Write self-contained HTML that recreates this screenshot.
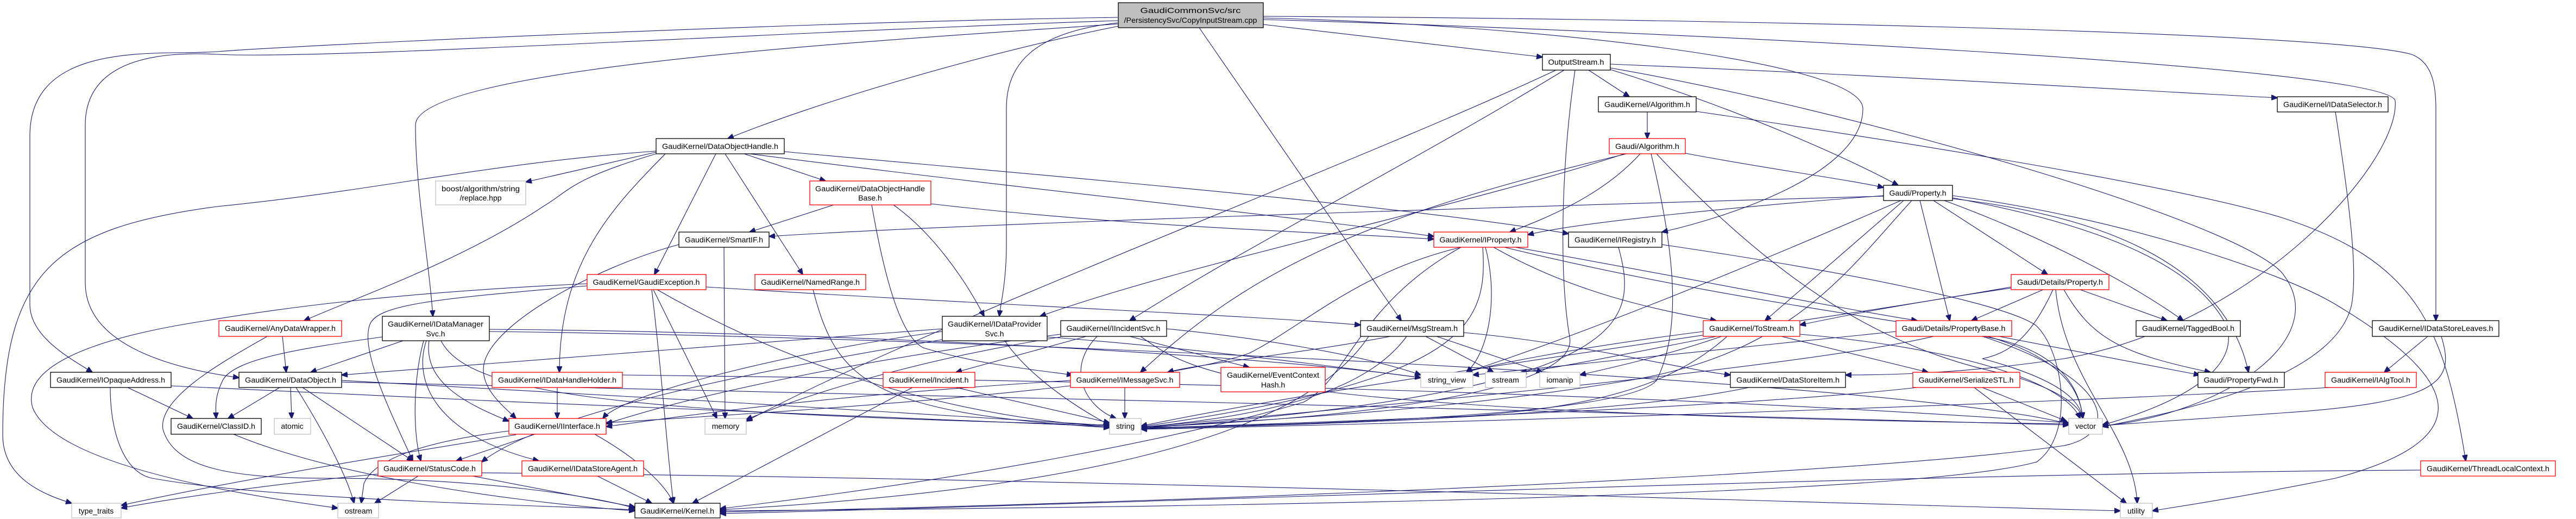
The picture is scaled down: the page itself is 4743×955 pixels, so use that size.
<!DOCTYPE html>
<html><head><meta charset="utf-8">
<style>
html,body{margin:0;padding:0;background:#fff;}
svg{display:block;}
text{font-family:"Liberation Sans",sans-serif;font-size:14px;fill:#000;}
.e{fill:none;stroke:#191970;stroke-width:1.1;marker-end:url(#a);}
.b{fill:#fff;stroke:#000;stroke-width:1.3;}
.r{fill:#fff;stroke:#ff0000;stroke-width:1.3;}
.g{fill:#fff;stroke:#bfbfbf;stroke-width:1.3;}
</style></head><body>
<svg width="4743" height="955" viewBox="0 0 4743 955" xmlns="http://www.w3.org/2000/svg">
<defs><marker id="a" markerWidth="12" markerHeight="10" refX="11" refY="5" orient="auto" markerUnits="userSpaceOnUse"><path d="M0,0 L12,5 L0,10 z" fill="#191970" stroke="#191970"/></marker></defs>
<g>
<path class="e" d="M2060,48 C1800,100 1500,190 1340,255"/>
<path class="e" d="M2058,42 C1900,60 1853,120 1853,200 L1853,450 C1853,520 1842,560 1840,582"/>
<path class="e" d="M2058,44 C1700,70 765,120 765,230 C765,350 790,480 797,582"/>
<path class="e" d="M2058,38 C1400,60 600,110 400,100 C250,92 157,130 157,230 L157,520 C157,640 330,680 440,695"/>
<path class="e" d="M2058,32 C1500,40 600,80 400,95 C300,103 55,70 55,250 L55,560 C55,620 130,660 170,685"/>
<path class="e" d="M2326,45 C2550,70 2700,90 2840,105"/>
<path class="e" d="M2208,51 L2580,590"/>
<path class="e" d="M2326,33 C2800,45 3430,110 3430,200 C3430,320 3180,400 3060,427"/>
<path class="e" d="M2326,36 C3000,55 4390,120 4410,185 C4420,300 4150,600 3800,660 C3600,690 3450,690 3398,690"/>
<path class="e" d="M2326,30 C3200,35 4300,60 4440,100 C4480,115 4485,160 4485,200 L4485,590"/>
<path class="e" d="M1208,278 C900,300 700,350 400,380 C100,420 5,500 5,800 C5,880 80,910 132,926"/>
<path class="e" d="M1208,283 C1050,330 1050,350 1000,380 C850,480 650,550 560,590"/>
<path class="e" d="M1208,280 L968,335"/>
<path class="e" d="M1225,283 C1130,380 1030,480 1030,685"/>
<path class="e" d="M1318,283 L1205,505"/>
<path class="e" d="M1370,283 L1520,333"/>
<path class="e" d="M1335,283 L1478,505"/>
<path class="e" d="M1380,283 C1900,350 2400,400 2640,435"/>
<path class="e" d="M1444,279 C2000,330 2600,380 2888,430"/>
<path class="e" d="M1250,450 C1100,490 890,600 890,680 C890,720 930,750 950,770"/>
<path class="e" d="M1333,455 L1335,770"/>
<path class="e" d="M1535,377 L1380,427"/>
<path class="e" d="M1645,377 C1720,430 1780,520 1812,582"/>
<path class="e" d="M1605,377 C1630,520 1660,620 1700,640 C1800,670 1900,680 1975,690"/>
<path class="e" d="M1714,375 C2100,420 2500,430 2640,440"/>
<path class="e" d="M1300,528 C1800,560 2300,580 2505,598"/>
<path class="e" d="M1200,533 C1220,700 1230,850 1240,926"/>
<path class="e" d="M1203,533 L1320,770"/>
<path class="e" d="M1210,533 C1500,700 1800,770 2043,785"/>
<path class="e" d="M1081,526 C800,550 690,560 680,600 C665,650 720,760 760,848"/>
<path class="e" d="M1081,522 C700,540 500,570 380,590 C150,625 40,680 60,750 C100,850 400,905 622,935"/>
<path class="e" d="M1497,533 C1540,700 1600,760 2043,787"/>
<path class="e" d="M520,619 L527,685"/>
<path class="e" d="M492,619 C420,660 290,730 300,790 C320,860 420,880 600,880 C900,880 1100,915 1169,935"/>
<path class="e" d="M742,627 L572,685"/>
<path class="e" d="M704,620 C560,640 430,660 410,700 C395,730 397,750 398,770"/>
<path class="e" d="M790,627 C780,700 850,740 937,775"/>
<path class="e" d="M785,627 C760,700 800,800 992,848"/>
<path class="e" d="M780,627 C760,700 760,800 775,848"/>
<path class="e" d="M812,627 C860,720 1100,760 2043,782"/>
<path class="e" d="M901,606 C1500,610 2300,650 2616,695"/>
<path class="e" d="M901,610 C1800,620 3500,700 3809,780"/>
<path class="e" d="M515,713 L420,770"/>
<path class="e" d="M535,713 L537,770"/>
<path class="e" d="M545,713 C600,800 640,880 652,926"/>
<path class="e" d="M557,713 L760,848"/>
<path class="e" d="M629,700 C1000,720 1700,760 2043,783"/>
<path class="e" d="M629,703 C1500,720 3000,760 3809,782"/>
<path class="e" d="M235,713 L355,770"/>
<path class="e" d="M203,713 C203,800 230,870 280,880 C500,920 1000,930 1169,938"/>
<path class="e" d="M315,710 C900,740 1700,770 2043,785"/>
<path class="e" d="M1026,713 L1026,770"/>
<path class="e" d="M1146,690 C2000,700 3000,720 3809,778"/>
<path class="e" d="M430,799 C600,870 900,920 1169,940"/>
<path class="e" d="M985,799 L840,848"/>
<path class="e" d="M1095,799 C1150,830 1220,880 1240,926"/>
<path class="e" d="M937,793 C800,810 690,840 670,890 L665,926"/>
<path class="e" d="M950,800 C700,840 400,890 223,930"/>
<path class="e" d="M770,876 L690,926"/>
<path class="e" d="M870,876 C1000,900 1100,920 1169,933"/>
<path class="e" d="M700,872 C500,890 300,920 223,935"/>
<path class="e" d="M887,870 C2000,880 3500,930 3904,940"/>
<path class="e" d="M1100,876 L1200,926"/>
<path class="e" d="M1735,605 C1400,630 900,670 629,690"/>
<path class="e" d="M1735,610 C1500,640 1150,720 1110,770"/>
<path class="e" d="M1850,627 C1900,700 2000,760 2043,782"/>
<path class="e" d="M1928,620 C2200,640 2500,680 2616,695"/>
<path class="e" d="M1735,625 C1400,680 1000,760 887,850"/>
<path class="e" d="M2000,619 L1760,685"/>
<path class="e" d="M1953,615 C1600,660 1300,720 1116,780"/>
<path class="e" d="M2020,619 C1960,680 2000,750 2055,770"/>
<path class="e" d="M2080,619 L2300,676"/>
<path class="e" d="M1953,620 C1700,660 1500,720 1374,772"/>
<path class="e" d="M2100,619 C2200,690 2300,760 3809,780"/>
<path class="e" d="M2148,605 C2300,620 2500,650 2616,690"/>
<path class="e" d="M1760,713 L2043,778"/>
<path class="e" d="M1680,713 L1275,926"/>
<path class="e" d="M2071,713 L2071,770"/>
<path class="e" d="M1971,700 C1500,730 1300,760 1116,785"/>
<path class="e" d="M2560,619 C2400,650 2200,670 2150,685"/>
<path class="e" d="M2625,619 L2750,685"/>
<path class="e" d="M2645,619 L2840,685"/>
<path class="e" d="M2590,619 C2530,700 2400,760 2101,786"/>
<path class="e" d="M2695,612 C2900,630 3100,680 3186,690"/>
<path class="e" d="M2520,619 C2400,800 2000,900 1326,938"/>
<path class="e" d="M2690,455 C2500,500 2400,600 2300,650 C2100,720 1400,760 1116,778"/>
<path class="e" d="M2730,455 C2740,600 2700,700 2101,785"/>
<path class="e" d="M2735,455 C2760,550 2740,650 2700,685"/>
<path class="e" d="M2750,455 C2900,540 3050,570 3160,590"/>
<path class="e" d="M2790,455 C3100,510 3400,570 3530,590"/>
<path class="e" d="M2770,455 C3200,560 3600,600 3700,630 C3800,660 3830,720 3835,770"/>
<path class="e" d="M2690,455 C2500,560 2480,700 2400,740 C2200,800 1800,880 1326,936"/>
<path class="e" d="M2980,455 C3020,600 3000,720 2101,788"/>
<path class="e" d="M3060,450 C3400,500 3700,560 3750,600 C3800,650 3820,800 3750,850 C3500,920 2000,935 1326,940"/>
<path class="e" d="M3033,206 L3033,255"/>
<path class="e" d="M3123,205 C3500,260 4000,340 4200,400 C4450,480 4500,600 4540,848"/>
<path class="e" d="M3103,282 C3250,310 3400,330 3468,345"/>
<path class="e" d="M3020,283 C2950,360 2850,400 2780,427"/>
<path class="e" d="M3040,283 C3080,450 3100,600 3050,700 C3000,760 2500,780 2101,787"/>
<path class="e" d="M3050,283 C3300,550 3500,650 3700,690 C3800,720 3830,750 3835,770"/>
<path class="e" d="M2995,283 C2500,400 2300,500 2100,685"/>
<path class="e" d="M3000,280 C2700,380 2200,480 1915,582"/>
<path class="e" d="M3468,360 C3200,380 2900,410 2813,432"/>
<path class="e" d="M3468,361 C2800,380 1800,410 1416,435"/>
<path class="e" d="M3500,369 C3200,500 2900,620 2700,685"/>
<path class="e" d="M3505,369 L3250,590"/>
<path class="e" d="M3535,369 L3590,590"/>
<path class="e" d="M3560,369 L3770,505"/>
<path class="e" d="M3580,369 C3800,450 3950,540 4020,590"/>
<path class="e" d="M3590,365 C3900,400 4100,500 4140,685"/>
<path class="e" d="M3595,360 C3900,400 4200,500 4300,560 C4500,680 4600,800 4300,880 C4100,920 3990,935 3963,940"/>
<path class="e" d="M3520,369 C3400,500 3300,650 3000,700 C2700,750 2400,770 2101,786"/>
<path class="e" d="M3595,364 C3900,420 4050,500 4100,600 C4130,700 3950,760 3871,782"/>
<path class="e" d="M3762,533 L3630,590"/>
<path class="e" d="M3830,533 L3990,590"/>
<path class="e" d="M3800,533 C3850,620 3900,650 4070,685"/>
<path class="e" d="M3703,530 C3500,560 3400,580 3314,598"/>
<path class="e" d="M3785,533 C3800,700 3930,800 3935,926"/>
<path class="e" d="M3780,533 C3740,620 3700,650 3650,660 C3800,700 3830,740 3835,770"/>
<path class="e" d="M3703,528 C3300,600 2500,700 2101,784"/>
<path class="e" d="M3660,619 C3800,660 3830,720 3835,770"/>
<path class="e" d="M3670,617 L4050,690"/>
<path class="e" d="M3560,619 C3300,680 2400,760 2101,786"/>
<path class="e" d="M3491,610 C3200,640 2800,680 2712,690"/>
<path class="e" d="M3650,619 C3900,700 3900,800 3800,820 C3400,880 2000,930 1326,942"/>
<path class="e" d="M3180,619 C3000,780 2700,770 2101,788"/>
<path class="e" d="M3160,619 C2950,660 2850,680 2800,685"/>
<path class="e" d="M3170,619 C3050,660 2950,680 2909,690"/>
<path class="e" d="M3280,619 L3550,685"/>
<path class="e" d="M3314,615 C3600,640 3800,700 3830,770"/>
<path class="e" d="M3136,610 C2900,640 2750,670 2700,685"/>
<path class="e" d="M3650,713 L3805,775"/>
<path class="e" d="M3635,713 L3915,926"/>
<path class="e" d="M3530,713 C3200,750 2500,775 2101,788"/>
<path class="e" d="M3220,713 C3000,760 2500,780 2101,789"/>
<path class="e" d="M4300,206 C4330,400 4340,500 4330,560 C4300,700 4000,760 3871,785"/>
<path class="e" d="M4470,619 L4390,685"/>
<path class="e" d="M4495,619 C4520,700 4500,740 4200,760 C4000,775 3900,780 3871,783"/>
<path class="e" d="M4291,713 C3800,740 3000,770 2101,790"/>
<path class="e" d="M4457,865 C3500,870 2000,930 1326,945"/>
<path class="e" d="M2925,129 L3000,178"/>
<path class="e" d="M2965,128 C3200,200 3400,290 3495,341"/>
<path class="e" d="M2880,129 C2600,300 2300,450 2080,590"/>
<path class="e" d="M2865,129 C2500,300 1700,600 1374,775"/>
<path class="e" d="M2900,129 C2875,300 2870,500 2890,620 C2910,720 2500,770 2101,786"/>
<path class="e" d="M2965,118 C3500,140 4000,170 4193,180"/>
<path class="e" d="M2965,125 C3400,200 4100,400 4200,500 C4300,620 4100,760 3871,784"/>
</g>
<g text-anchor="middle">
<rect x="2059" y="5" width="267" height="46" fill="#bfbfbf" stroke="#000" stroke-width="1.3"/>
<text x="2192" y="24" textLength="185" lengthAdjust="spacingAndGlyphs">GaudiCommonSvc/src</text>
<text x="2192" y="42" textLength="245" lengthAdjust="spacingAndGlyphs">/PersistencySvc/CopyInputStream.cpp</text>

<rect class="g" x="802" y="333" width="166" height="44"/>
<text x="885" y="352" textLength="144" lengthAdjust="spacingAndGlyphs">boost/algorithm/string</text>
<text x="885" y="369">/replace.hpp</text>

<rect class="r" x="403" y="590" width="226" height="29"/><text x="516" y="609" textLength="204" lengthAdjust="spacingAndGlyphs">GaudiKernel/AnyDataWrapper.h</text>
<rect class="b" x="704" y="582" width="197" height="45"/>
<text x="802" y="601" textLength="176" lengthAdjust="spacingAndGlyphs">GaudiKernel/IDataManager</text>
<text x="802" y="619">Svc.h</text>
<rect class="b" x="93" y="685" width="222" height="28"/><text x="204" y="704" textLength="200" lengthAdjust="spacingAndGlyphs">GaudiKernel/IOpaqueAddress.h</text>
<rect class="b" x="440" y="685" width="189" height="28"/><text x="535" y="704" textLength="168" lengthAdjust="spacingAndGlyphs">GaudiKernel/DataObject.h</text>
<rect class="r" x="906" y="685" width="240" height="28"/><text x="1026" y="704" textLength="218" lengthAdjust="spacingAndGlyphs">GaudiKernel/IDataHandleHolder.h</text>
<rect class="b" x="315" y="770" width="166" height="29"/><text x="398" y="789" textLength="144" lengthAdjust="spacingAndGlyphs">GaudiKernel/ClassID.h</text>
<rect class="g" x="505" y="770" width="67" height="29"/><text x="538" y="789">atomic</text>
<rect class="r" x="937" y="770" width="179" height="29"/><text x="1026" y="789" textLength="158" lengthAdjust="spacingAndGlyphs">GaudiKernel/IInterface.h</text>
<rect class="r" x="696" y="848" width="191" height="28"/><text x="791" y="867" textLength="170" lengthAdjust="spacingAndGlyphs">GaudiKernel/StatusCode.h</text>
<rect class="r" x="961" y="848" width="224" height="28"/><text x="1073" y="867" textLength="202" lengthAdjust="spacingAndGlyphs">GaudiKernel/IDataStoreAgent.h</text>
<rect class="g" x="132" y="926" width="91" height="27"/><text x="177" y="945">type_traits</text>
<rect class="g" x="622" y="926" width="75" height="27"/><text x="660" y="945">ostream</text>
<rect class="b" x="1169" y="926" width="157" height="27"/><text x="1247" y="945" textLength="136" lengthAdjust="spacingAndGlyphs">GaudiKernel/Kernel.h</text>
<rect class="r" x="1081" y="505" width="219" height="28"/><text x="1190" y="524" textLength="197" lengthAdjust="spacingAndGlyphs">GaudiKernel/GaudiException.h</text>

<rect class="b" x="1208" y="255" width="236" height="28"/><text x="1326" y="274" textLength="214" lengthAdjust="spacingAndGlyphs">GaudiKernel/DataObjectHandle.h</text>
<rect class="r" x="1491" y="333" width="223" height="44"/>
<text x="1602" y="352" textLength="202" lengthAdjust="spacingAndGlyphs">GaudiKernel/DataObjectHandle</text>
<text x="1602" y="369">Base.h</text>
<rect class="b" x="1250" y="427" width="166" height="28"/><text x="1333" y="446" textLength="144" lengthAdjust="spacingAndGlyphs">GaudiKernel/SmartIF.h</text>
<rect class="r" x="1390" y="505" width="204" height="28"/><text x="1492" y="524" textLength="182" lengthAdjust="spacingAndGlyphs">GaudiKernel/NamedRange.h</text>
<rect class="b" x="1735" y="582" width="193" height="45"/>
<text x="1831" y="601" textLength="172" lengthAdjust="spacingAndGlyphs">GaudiKernel/IDataProvider</text>
<text x="1831" y="619">Svc.h</text>
<rect class="b" x="1953" y="590" width="195" height="29"/><text x="2050" y="609" textLength="173" lengthAdjust="spacingAndGlyphs">GaudiKernel/IIncidentSvc.h</text>
<rect class="r" x="1626" y="685" width="169" height="28"/><text x="1710" y="704" textLength="147" lengthAdjust="spacingAndGlyphs">GaudiKernel/Incident.h</text>
<rect class="r" x="1971" y="685" width="201" height="28"/><text x="2071" y="704" textLength="179" lengthAdjust="spacingAndGlyphs">GaudiKernel/IMessageSvc.h</text>
<rect class="r" x="2248" y="676" width="192" height="45"/>
<text x="2344" y="695" textLength="170" lengthAdjust="spacingAndGlyphs">GaudiKernel/EventContext</text>
<text x="2344" y="713">Hash.h</text>
<rect class="g" x="1298" y="770" width="76" height="29"/><text x="1336" y="789">memory</text>
<rect class="g" x="2043" y="770" width="58" height="29"/><text x="2072" y="789">string</text>

<rect class="b" x="2840" y="100" width="125" height="29"/><text x="2902" y="119" textLength="103" lengthAdjust="spacingAndGlyphs">OutputStream.h</text>
<rect class="b" x="2943" y="178" width="180" height="28"/><text x="3033" y="197" textLength="158" lengthAdjust="spacingAndGlyphs">GaudiKernel/Algorithm.h</text>
<rect class="r" x="2963" y="255" width="140" height="28"/><text x="3033" y="274" textLength="118" lengthAdjust="spacingAndGlyphs">Gaudi/Algorithm.h</text>
<rect class="b" x="3468" y="341" width="127" height="28"/><text x="3531" y="360" textLength="105" lengthAdjust="spacingAndGlyphs">Gaudi/Property.h</text>
<rect class="r" x="2640" y="427" width="173" height="28"/><text x="2726" y="446" textLength="151" lengthAdjust="spacingAndGlyphs">GaudiKernel/IProperty.h</text>
<rect class="b" x="2888" y="427" width="172" height="28"/><text x="2974" y="446" textLength="150" lengthAdjust="spacingAndGlyphs">GaudiKernel/IRegistry.h</text>
<rect class="b" x="2505" y="590" width="190" height="29"/><text x="2600" y="609" textLength="168" lengthAdjust="spacingAndGlyphs">GaudiKernel/MsgStream.h</text>
<rect class="r" x="3136" y="590" width="178" height="29"/><text x="3225" y="609" textLength="156" lengthAdjust="spacingAndGlyphs">GaudiKernel/ToStream.h</text>
<rect class="r" x="3491" y="590" width="213" height="29"/><text x="3597" y="609" textLength="191" lengthAdjust="spacingAndGlyphs">Gaudi/Details/PropertyBase.h</text>
<rect class="g" x="2616" y="685" width="96" height="28"/><text x="2664" y="704">string_view</text>
<rect class="g" x="2735" y="685" width="75" height="28"/><text x="2772" y="704">sstream</text>
<rect class="g" x="2835" y="685" width="74" height="28"/><text x="2872" y="704">iomanip</text>
<rect class="b" x="3186" y="685" width="212" height="28"/><text x="3292" y="704" textLength="190" lengthAdjust="spacingAndGlyphs">GaudiKernel/DataStoreItem.h</text>
<rect class="r" x="3522" y="685" width="197" height="28"/><text x="3620" y="704" textLength="175" lengthAdjust="spacingAndGlyphs">GaudiKernel/SerializeSTL.h</text>

<rect class="b" x="4193" y="178" width="204" height="28"/><text x="4295" y="197" textLength="182" lengthAdjust="spacingAndGlyphs">GaudiKernel/IDataSelector.h</text>
<rect class="r" x="3703" y="505" width="180" height="28"/><text x="3793" y="524" textLength="158" lengthAdjust="spacingAndGlyphs">Gaudi/Details/Property.h</text>
<rect class="b" x="3933" y="590" width="192" height="29"/><text x="4029" y="609" textLength="170" lengthAdjust="spacingAndGlyphs">GaudiKernel/TaggedBool.h</text>
<rect class="b" x="4368" y="590" width="233" height="29"/><text x="4485" y="609" textLength="211" lengthAdjust="spacingAndGlyphs">GaudiKernel/IDataStoreLeaves.h</text>
<rect class="b" x="4047" y="685" width="159" height="28"/><text x="4126" y="704" textLength="137" lengthAdjust="spacingAndGlyphs">Gaudi/PropertyFwd.h</text>
<rect class="r" x="4281" y="685" width="168" height="28"/><text x="4365" y="704" textLength="146" lengthAdjust="spacingAndGlyphs">GaudiKernel/IAlgTool.h</text>
<rect class="g" x="3809" y="770" width="62" height="29"/><text x="3840" y="789">vector</text>
<rect class="r" x="4457" y="848" width="248" height="28"/><text x="4581" y="867" textLength="226" lengthAdjust="spacingAndGlyphs">GaudiKernel/ThreadLocalContext.h</text>
<rect class="g" x="3904" y="926" width="59" height="27"/><text x="3933" y="945">utility</text>
</g>
</svg>
</body></html>
